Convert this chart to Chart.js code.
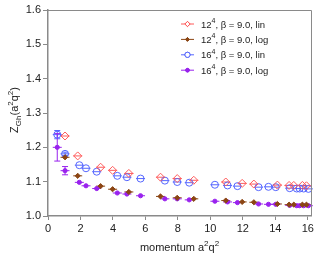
<!DOCTYPE html>
<html>
<head>
<meta charset="UTF-8">
<title>Z_Gh vs momentum</title>
<script src="https://cdn.jsdelivr.net/npm/chart.js"></script>
<style>
  body { margin: 0; padding: 0; background: #fff; }
  #wrap { width: 320px; height: 256px; }
</style>
</head>
<body>
<div id="wrap"><canvas id="c" width="320" height="256"></canvas></div>
<script>
// data
var xTicks = [0, 2, 4, 6, 8, 10, 12, 14, 16];
var yTicks = [1.0, 1.1, 1.2, 1.3, 1.4, 1.5, 1.6];

var labels = ['12', '12', '16', '16'];
var suffix = [', \u03b2 = 9.0, lin', ', \u03b2 = 9.0, log', ', \u03b2 = 9.0, lin', ', \u03b2 = 9.0, log'];

var x12 = [1.05, 1.83, 3.24, 3.98, 4.98, 6.93, 7.96, 8.98, 10.95, 11.96, 12.68, 14.13, 14.85, 15.14, 15.67, 15.92];
var y12lin = [1.233, 1.175, 1.142, 1.133, 1.124, 1.113, 1.109, 1.104, 1.099, 1.095, 1.093, 1.090, 1.089, 1.089, 1.089, 1.088];
var e12lin = [0.004, 0.003, 0.003, 0.002, 0.002, 0.002, 0.002, 0.002, 0.002, 0.002, 0.002, 0.002, 0.002, 0.002, 0.002, 0.002];
var y12log = [1.171, 1.117, 1.087, 1.078, 1.070, 1.057, 1.053, 1.050, 1.045, 1.041, 1.040, 1.035, 1.033, 1.033, 1.033, 1.033];
var e12log = [0.003, 0.002, 0.002, 0.002, 0.002, 0.002, 0.002, 0.002, 0.002, 0.002, 0.002, 0.002, 0.002, 0.002, 0.002, 0.002];

var x16 = [0.57, 1.05, 1.93, 2.34, 3.0, 4.27, 4.86, 5.70, 7.2, 7.96, 8.7, 10.28, 11.06, 11.67, 12.97, 13.58, 14.03, 14.89, 15.32, 15.5, 15.75, 16.04];
var y16lin = [1.237, 1.181, 1.148, 1.139, 1.129, 1.117, 1.113, 1.109, 1.103, 1.099, 1.097, 1.091, 1.089, 1.087, 1.084, 1.085, 1.084, 1.081, 1.080, 1.080, 1.080, 1.079];
var e16lin = [0.012, 0.005, 0.003, 0.003, 0.003, 0.002, 0.002, 0.002, 0.002, 0.002, 0.002, 0.002, 0.002, 0.002, 0.002, 0.002, 0.002, 0.002, 0.002, 0.002, 0.002, 0.002];
var y16log = [1.200, 1.132, 1.098, 1.088, 1.080, 1.067, 1.064, 1.059, 1.050, 1.050, 1.047, 1.043, 1.041, 1.039, 1.035, 1.034, 1.034, 1.031, 1.030, 1.030, 1.030, 1.030];
var e16log = [0.040, 0.012, 0.004, 0.003, 0.003, 0.002, 0.002, 0.002, 0.002, 0.002, 0.002, 0.002, 0.002, 0.002, 0.002, 0.002, 0.002, 0.002, 0.002, 0.002, 0.002, 0.002];

var colors = ['#ff5a5a', '#8b4513', '#5566ff', '#9922ee'];
var FONT = '"Liberation Sans", Arial, sans-serif';

function pts(xs, ys) {
  return xs.map(function(x, i) { return { x: x, y: ys[i] }; });
}

var sets = [
  { data: pts(x12, y12lin), err: e12lin, style: 'rectRot', fill: false, r: 4 },
  { data: pts(x12, y12log), err: e12log, style: 'rectRot', fill: true, r: 2.6 },
  { data: pts(x16, y16lin), err: e16lin, style: 'circle', fill: false, r: 3.5 },
  { data: pts(x16, y16log), err: e16log, style: 'circle', fill: true, r: 2.1 }
];

var datasets = sets.map(function(s, i) {
  return {
    label: labels[i] + suffix[i],
    data: s.data,
    err: s.err,
    showLine: false,
    pointStyle: s.style,
    pointRadius: s.r,
    pointBorderWidth: 1,
    pointBorderColor: colors[i],
    pointBackgroundColor: s.fill ? colors[i] : 'rgba(0,0,0,0)',
    borderColor: colors[i],
    backgroundColor: colors[i]
  };
});

// error bars and the little horizontal stroke through each marker
var errBars = {
  id: 'errBars',
  beforeDatasetsDraw: function(chart) {
    var ctx = chart.ctx, ys = chart.scales.y;
    ctx.save();
    ctx.lineWidth = 1;
    chart.data.datasets.forEach(function(ds, i) {
      var meta = chart.getDatasetMeta(i);
      ctx.strokeStyle = colors[i];
      meta.data.forEach(function(p, j) {
        var v = ds.data[j].y, e = ds.err[j];
        var top = ys.getPixelForValue(v + e), bot = ys.getPixelForValue(v - e);
        ctx.beginPath();
        ctx.moveTo(p.x - 4.5, p.y); ctx.lineTo(p.x + 4.5, p.y);
        if (bot - top > 3) {
          ctx.moveTo(p.x, top); ctx.lineTo(p.x, bot);
          ctx.moveTo(p.x - 3, top); ctx.lineTo(p.x + 3, top);
          ctx.moveTo(p.x - 3, bot); ctx.lineTo(p.x + 3, bot);
        }
        ctx.stroke();
      });
    });
    ctx.restore();
  }
};

function drawSup(ctx, x, y, parts) {
  // parts: [text, size, dy]
  parts.forEach(function(p) {
    ctx.font = p[1] + 'px ' + FONT;
    ctx.fillText(p[0], x, y + p[2]);
    x += ctx.measureText(p[0]).width;
  });
  return x;
}

var extras = {
  id: 'extras',
  afterDraw: function(chart) {
    var ctx = chart.ctx, a = chart.chartArea;
    ctx.save();
    // frame
    ctx.strokeStyle = '#8a8a8a';
    ctx.lineWidth = 1;
    ctx.beginPath();
    ctx.moveTo(a.left, a.top + 0.5); ctx.lineTo(a.right + 0.5, a.top + 0.5);
    ctx.lineTo(a.right + 0.5, a.bottom);
    ctx.stroke();

    ctx.fillStyle = '#222';
    ctx.textBaseline = 'alphabetic';
    ctx.textAlign = 'left';

    // x title
    var xt = [['momentum a', 11, 0], ['2', 8, -5], ['q', 11, 0], ['2', 8, -5]];
    var w = 0;
    xt.forEach(function(p) { ctx.font = p[1] + 'px ' + FONT; w += ctx.measureText(p[0]).width; });
    drawSup(ctx, (a.left + a.right) / 2 - w / 2, 251, xt);

    // y title
    ctx.save();
    ctx.translate(18, 0);
    ctx.rotate(-Math.PI / 2);
    var yt = [['Z', 11, 0], ['Gh', 8, 2.5], ['(a', 11, 0], ['2', 8, -5], ['q', 11, 0], ['2', 8, -5], [')', 11, 0]];
    w = 0;
    yt.forEach(function(p) { ctx.font = p[1] + 'px ' + FONT; w += ctx.measureText(p[0]).width; });
    drawSup(ctx, -(110 + w / 2), 0, yt);
    ctx.restore();

    // legend
    var lx = 181, ly = 24;
    chart.data.datasets.forEach(function(ds, i) {
      var y = ly + i * 15.4;
      ctx.strokeStyle = colors[i];
      ctx.lineWidth = 1;
      ctx.beginPath();
      ctx.moveTo(lx, y); ctx.lineTo(lx + 13, y);
      ctx.stroke();
      var s = sets[i];
      Chart.helpers.drawPoint(ctx, {
        pointStyle: s.style, radius: s.fill ? 1.8 : 2.6, borderWidth: 1
      }, lx + 6.5, y);
      ctx.fillStyle = s.fill ? colors[i] : '#fff';
      ctx.fill();
      ctx.stroke();
      ctx.fillStyle = '#222';
      drawSup(ctx, lx + 20, y + 3.5, [[labels[i], 9.5, 0], ['4', 7, -4.5], [suffix[i], 9.5, 0]]);
    });
    ctx.restore();
  }
};

new Chart(document.getElementById('c'), {
  type: 'scatter',
  data: { datasets: datasets },
  plugins: [errBars, extras],
  options: {
    responsive: false,
    animation: false,
    events: [],
    layout: { padding: { top: 10, right: 9, left: 0, bottom: 0 } },
    plugins: { legend: { display: false }, tooltip: { enabled: false } },
    scales: {
      x: {
        type: 'linear', min: 0, max: 16.2,
        afterBuildTicks: function(s) { s.ticks = xTicks.map(function(v) { return { value: v }; }); },
        afterFit: function(s) { s.height = 40; },
        grid: { display: true, drawOnChartArea: false, drawTicks: true, tickLength: 4, color: '#8a8a8a' },
        border: { display: true, color: '#8a8a8a', width: 1.5 },
        ticks: { color: '#222', font: { family: FONT, size: 11 }, padding: 2, maxRotation: 0 }
      },
      y: {
        type: 'linear', min: 1.0, max: 1.6,
        afterBuildTicks: function(s) { s.ticks = yTicks.map(function(v) { return { value: v }; }); },
        afterFit: function(s) { s.width = 48; },
        grid: { display: true, drawOnChartArea: false, drawTicks: true, tickLength: 5, color: '#8a8a8a' },
        border: { display: true, color: '#8a8a8a', width: 1.5 },
        ticks: { color: '#222', font: { family: FONT, size: 11 }, padding: 2,
          callback: function(v) { return v.toFixed(1); } }
      }
    }
  }
});
</script>
</body>
</html>
